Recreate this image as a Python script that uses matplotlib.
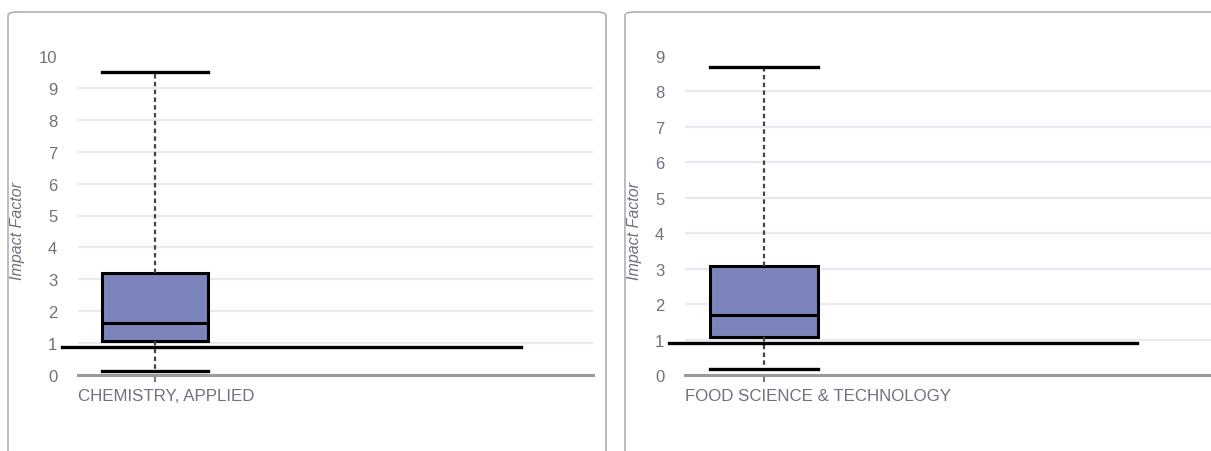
import matplotlib.pyplot as plt
from matplotlib.patches import FancyBboxPatch

# box stats
categories = ["CHEMISTRY, APPLIED", "FOOD SCIENCE & TECHNOLOGY"]
whis_lo = [0.11, 0.17]
q1 = [1.07, 1.07]
median = [1.63, 1.70]
q3 = [3.20, 3.07]
whis_hi = [9.50, 8.70]
ref_line = [0.88, 0.89]  # the horizontal black line
y_max = [10, 9]

W, H = 1211, 452
TEXT = "#6e7180"
BOX = "#7b85bc"
GRID = "#e9e9f2"

plt.rcParams['font.family'] = ['Liberation Sans', 'DejaVu Sans']
fig = plt.figure(figsize=(W / 100, H / 100), dpi=100)

# rounded panel borders (pixel coords)
panels = [(8, 606), (625, 1223)]
for x0, x1 in panels:
    fig.patches.append(FancyBboxPatch(
        (x0 / W, -20 / H), (x1 - x0) / W, (H - 13 + 20) / H,
        boxstyle="round,pad=0,rounding_size=0.008", transform=fig.transFigure,
        fc="white", ec="#a9a9a9", lw=1.1, zorder=-5))

# axes placement (pixels): left, right, ylabel x
axes_px = [(78, 593, 18), (685, 1211, 635)]
box_w = 0.7
for i, (xl, xr, lab_x) in enumerate(axes_px):
    ax = fig.add_axes([xl / W, (H - 376) / H, (xr - xl) / W, 319 / H])
    ax.set_zorder(2)
    ax.set_facecolor("none")
    # px per data unit from box width
    cx = 155 if i == 0 else 764
    ppu = (207 - 101) / box_w if i == 0 else (818 - 710) / box_w
    ax.set_xlim((xl - cx) / ppu, (xr - cx) / ppu)
    ax.set_ylim(0, y_max[i])
    ax.set_yticks(range(0, y_max[i] + 1))
    ax.set_xticks([0])
    ax.set_xticklabels([""])

    ax.yaxis.grid(True, color=GRID, lw=1.6, zorder=0)
    ax.set_axisbelow(True)
    for g in ax.get_ygridlines()[:1] + ax.get_ygridlines()[-1:]:
        g.set_visible(False)
    for s in ["top", "right", "left"]:
        ax.spines[s].set_visible(False)
    ax.spines["bottom"].set_color("#9a9a9e")
    ax.spines["bottom"].set_linewidth(2.2)
    ax.spines["bottom"].set_zorder(1)
    ax.tick_params(axis="y", length=0, pad=15, labelsize=12, labelcolor=TEXT)
    ax.tick_params(axis="x", length=5, width=1.5, color="#7a7a7a", pad=0)

    stats = [dict(med=median[i], q1=q1[i], q3=q3[i],
                  whislo=whis_lo[i], whishi=whis_hi[i], fliers=[])]
    ax.bxp(stats, positions=[0], widths=box_w, patch_artist=True,
           showfliers=False, manage_ticks=False,
           boxprops=dict(facecolor=BOX, edgecolor="black", linewidth=2.2),
           medianprops=dict(color="black", linewidth=2.2),
           whiskerprops=dict(color="#444444", linewidth=1.6, linestyle=(0, (2, 1.5))),
           capprops=dict(color="black", linewidth=2.4),
           capwidths=box_w)
    ax.plot([(xl - 16 - cx) / ppu, 2.42], [ref_line[i]] * 2, color="black",
            lw=2.4, clip_on=False, zorder=5)

    ax.text(0, -0.04, categories[i], transform=ax.transAxes, ha="left", va="top",
            fontsize=12.2, color=TEXT)
    fig.text(lab_x / W, (H - 231) / H, "Impact Factor", rotation=90, style="italic",
             ha="center", va="center", fontsize=11.5, color=TEXT)

fig.savefig("out.png", dpi=100)
